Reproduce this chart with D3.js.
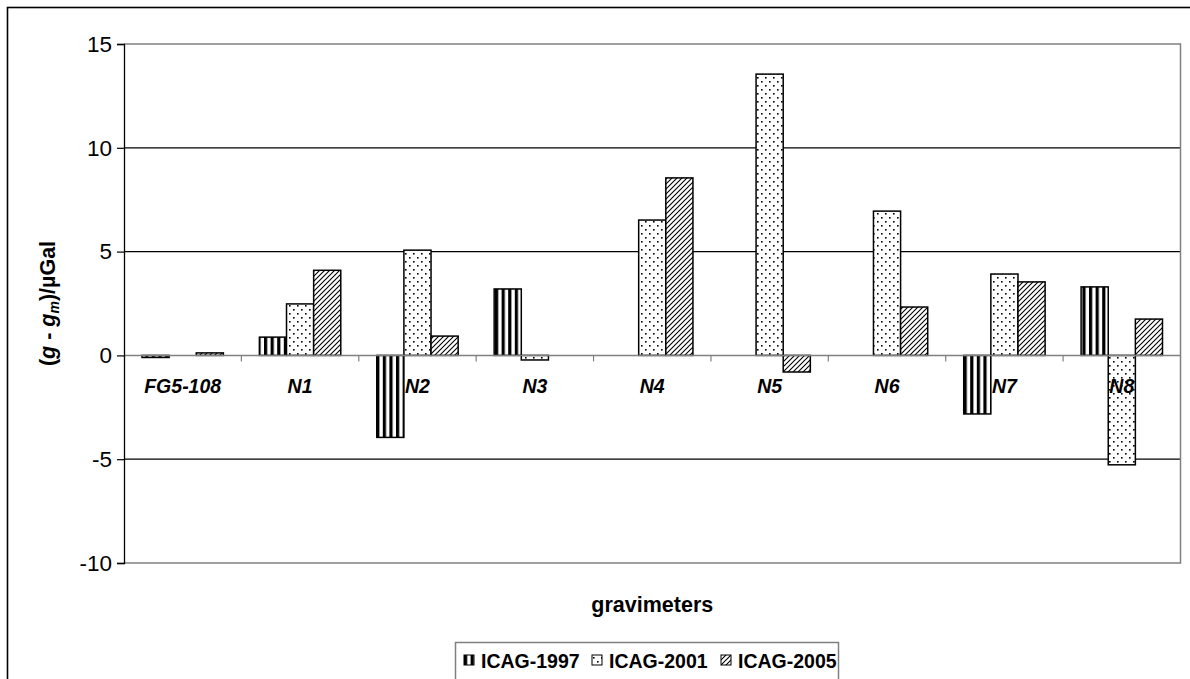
<!DOCTYPE html>
<html>
<head>
<meta charset="utf-8">
<script src="https://cdn.jsdelivr.net/npm/d3@7"></script>
<style>
  body { margin: 0; background: #fff; }
  svg { display: block; font-family: "Liberation Sans", Arial, sans-serif; }
</style>
</head>
<body>
<svg id="chart" width="1190" height="679"></svg>
<script>
const categories = ["FG5-108", "N1", "N2", "N3", "N4", "N5", "N6", "N7", "N8"];
const seriesNames = ["ICAG-1997", "ICAG-2001", "ICAG-2005"];
const icag1997 = [-0.1, 0.88, -3.95, 3.2, null, null, null, -2.82, 3.3];
const icag2001 = [null, 2.48, 5.07, -0.22, 6.52, 13.55, 6.95, 3.92, -5.27];
const icag2005 = [0.12, 4.1, 0.93, null, 8.55, -0.8, 2.33, 3.54, 1.75];
const yTicks = [-10, -5, 0, 5, 10, 15];

const seriesValues = [icag1997, icag2001, icag2005];
const patternIds = ["pat1997", "pat2001", "pat2005"];

const svg = d3.select("#chart");
const plotLeft = 124, plotRight = 1180.5, plotTop = 44, plotBottom = 563;

// patterns
const defs = svg.append("defs");
const p1 = defs.append("pattern").attr("id", "pat1997")
  .attr("patternUnits", "userSpaceOnUse").attr("width", 6.6).attr("height", 8);
p1.append("rect").attr("width", 6.6).attr("height", 8).attr("fill", "#fff");
p1.append("rect").attr("x", 0).attr("width", 3.2).attr("height", 8).attr("fill", "#000");

const p2 = defs.append("pattern").attr("id", "pat2001")
  .attr("patternUnits", "userSpaceOnUse").attr("width", 8).attr("height", 8);
p2.append("rect").attr("width", 8).attr("height", 8).attr("fill", "#fff");
p2.append("rect").attr("x", 1).attr("y", 1).attr("width", 1.6).attr("height", 1.6).attr("fill", "#000");
p2.append("rect").attr("x", 5).attr("y", 5).attr("width", 1.6).attr("height", 1.6).attr("fill", "#000");

const p3 = defs.append("pattern").attr("id", "pat2005")
  .attr("patternUnits", "userSpaceOnUse").attr("width", 5).attr("height", 5);
p3.append("rect").attr("width", 5).attr("height", 5).attr("fill", "#fff");
p3.append("path").attr("d", "M-1,6 L6,-1 M-1,1 L1,-1 M4,6 L6,4")
  .attr("stroke", "#000").attr("stroke-width", 1.1);

// outer frame
svg.append("rect")
  .attr("x", 7.5).attr("y", 7.5).attr("width", 1200).attr("height", 700)
  .attr("fill", "none").attr("stroke", "#000").attr("stroke-width", 1.6);

const x = d3.scaleBand().domain(categories).range([plotLeft, plotRight]);
const xInner = d3.scaleBand().domain(seriesNames)
  .range([18, x.bandwidth() - 18]);
const y = d3.scaleLinear().domain([-10, 15]).range([plotBottom, plotTop]);

// gridlines
svg.append("g")
  .selectAll("line")
  .data(yTicks.filter(d => d !== 0 && d !== 15 && d !== -10))
  .join("line")
  .attr("x1", plotLeft).attr("x2", plotRight)
  .attr("y1", d => y(d)).attr("y2", d => y(d))
  .attr("stroke", "#000").attr("stroke-width", 1.2);

// plot border (gray)
svg.append("path")
  .attr("d", `M${plotLeft},${plotTop}H${plotRight}V${plotBottom}H${plotLeft}`)
  .attr("fill", "none").attr("stroke", "#808080").attr("stroke-width", 1.5);

// bars
const flat = [];
seriesValues.forEach((vals, si) => {
  vals.forEach((v, ci) => {
    if (v !== null) flat.push({ cat: categories[ci], s: seriesNames[si], si, v });
  });
});

svg.append("g")
  .selectAll("rect")
  .data(flat)
  .join("rect")
  .attr("x", d => x(d.cat) + xInner(d.s))
  .attr("y", d => y(Math.max(0, d.v)))
  .attr("width", xInner.bandwidth())
  .attr("height", d => Math.abs(y(d.v) - y(0)))
  .attr("fill", d => `url(#${patternIds[d.si]})`)
  .attr("stroke", "#000")
  .attr("stroke-width", 1.5);

// zero axis line + category ticks
svg.append("line")
  .attr("x1", plotLeft).attr("x2", plotRight)
  .attr("y1", y(0)).attr("y2", y(0))
  .attr("stroke", "#808080").attr("stroke-width", 1.5);

svg.append("g")
  .selectAll("line")
  .data(categories.slice(1))
  .join("line")
  .attr("x1", d => x(d)).attr("x2", d => x(d))
  .attr("y1", y(0)).attr("y2", y(0) + 6)
  .attr("stroke", "#808080").attr("stroke-width", 1.2);

// category labels
svg.append("g")
  .selectAll("text")
  .data(categories)
  .join("text")
  .attr("x", d => x(d) + x.bandwidth() / 2)
  .attr("y", 393)
  .attr("text-anchor", "middle")
  .attr("font-size", 19.5)
  .attr("font-weight", "bold")
  .attr("font-style", "italic")
  .text(d => d);

// y axis
const yAxis = svg.append("g")
  .attr("transform", `translate(${plotLeft},0)`)
  .call(d3.axisLeft(y).tickValues(yTicks).tickSize(7).tickPadding(5).tickFormat(d => String(d)));
yAxis.select(".domain").attr("stroke", "#000").attr("stroke-width", 1.3);
yAxis.selectAll(".tick line").attr("stroke", "#000").attr("stroke-width", 1.2);
yAxis.selectAll(".tick text")
  .attr("font-size", 22.5)
  .attr("font-family", "Liberation Sans, Arial, sans-serif")
  .attr("fill", "#000");

// y title
const yt = svg.append("text")
  .attr("transform", `translate(55,${(plotTop + plotBottom) / 2}) rotate(-90)`)
  .attr("text-anchor", "middle")
  .attr("font-size", 21.5)
  .attr("font-weight", "bold");
yt.append("tspan").text("(");
yt.append("tspan").attr("font-style", "italic").text("g");
yt.append("tspan").text(" - ");
yt.append("tspan").attr("font-style", "italic").text("g");
yt.append("tspan").attr("font-style", "italic").attr("font-size", 14).attr("dy", 4).text("m");
yt.append("tspan").attr("dy", -4).text(")/\u00b5Gal");

// x title
svg.append("text")
  .attr("x", (plotLeft + plotRight) / 2)
  .attr("y", 612)
  .attr("text-anchor", "middle")
  .attr("font-size", 21.5)
  .attr("font-weight", "bold")
  .text("gravimeters");

// legend
const legend = svg.append("g");
legend.append("rect")
  .attr("x", 455.5).attr("y", 642.5).attr("width", 383).attr("height", 50)
  .attr("fill", "#fff").attr("stroke", "#808080").attr("stroke-width", 1.5);

const legendX = [464, 592, 721];
const items = legend.selectAll("g.item")
  .data(seriesNames)
  .join("g")
  .attr("class", "item")
  .attr("transform", (d, i) => `translate(${legendX[i]},0)`);
items.append("rect")
  .attr("x", 0).attr("y", 655).attr("width", 10).attr("height", 10)
  .attr("fill", (d, i) => `url(#${patternIds[i]})`)
  .attr("stroke", "#000").attr("stroke-width", 1);
items.append("text")
  .attr("x", 17).attr("y", 667.5)
  .attr("font-size", 19.5)
  .attr("font-weight", "bold")
  .text(d => d);
</script>
</body>
</html>
